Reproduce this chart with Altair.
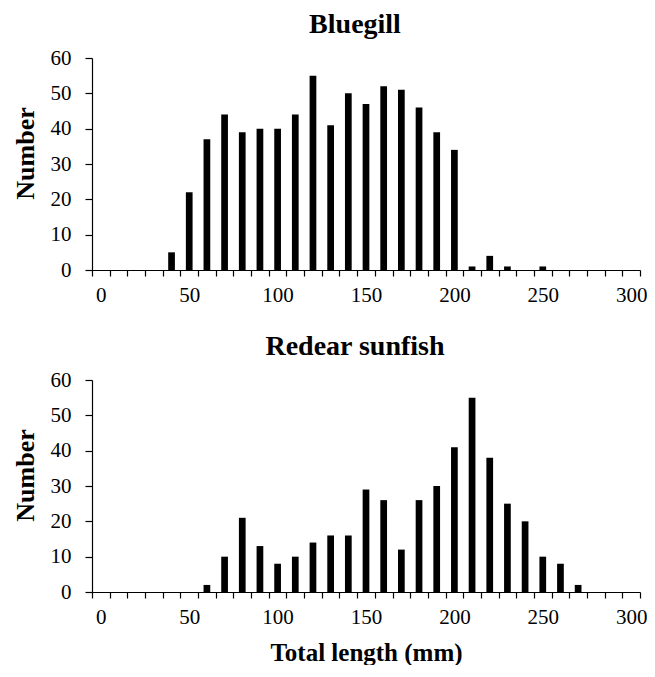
import altair as alt
import pandas as pd

lengths = [0, 10, 20, 30, 40, 50, 60, 70, 80, 90, 100, 110, 120, 130, 140, 150,
           160, 170, 180, 190, 200, 210, 220, 230, 240, 250, 260, 270, 280, 290, 300]
bluegill = [0, 0, 0, 0, 5, 22, 37, 44, 39, 40, 40, 44, 55, 41, 50, 47,
            52, 51, 46, 39, 34, 1, 4, 1, 0, 1, 0, 0, 0, 0, 0]
redear = [0, 0, 0, 0, 0, 0, 2, 10, 21, 13, 8, 10, 14, 16, 16, 29,
          26, 12, 26, 30, 41, 55, 38, 25, 20, 10, 8, 2, 0, 0, 0]
y_ticks = [0, 10, 20, 30, 40, 50, 60]

FONT = "Liberation Serif"


def panel(vals, title, xtitle=None):
    df = pd.DataFrame({"length": lengths, "n": vals})
    xaxis = dict(
        tickBand="extent",
        labelExpr="datum.value % 50 == 0 ? datum.label : ''",
        labelAngle=0,
        labelOverlap=False,
        tickSize=6,
        labelPadding=8,
        labelFontSize=21,
        labelFont=FONT,
        labelColor="black",
        domainColor="black",
        tickColor="black",
        grid=False,
    )
    if xtitle:
        xaxis.update(title=xtitle, titleFont=FONT, titleFontSize=25,
                     titleFontWeight="bold", titleColor="black", titlePadding=13)
    else:
        xaxis.update(title="")
    return (
        alt.Chart(df, title=alt.Title(title, font=FONT, fontSize=28, fontWeight="bold",
                                      color="black", anchor="middle", dx=-11, offset=8))
        .mark_bar(color="black", width=alt.RelativeBandSize(0.38))
        .encode(
            x=alt.X("length:O", scale=alt.Scale(paddingInner=0, paddingOuter=0),
                    axis=alt.Axis(**xaxis)),
            y=alt.Y("n:Q", scale=alt.Scale(domain=[0, 60], nice=False),
                    axis=alt.Axis(values=y_ticks, title="Number", titleFont=FONT,
                                  titleFontSize=26, titleFontWeight="bold",
                                  titleColor="black", titlePadding=12, titleY=95,
                                  labelFont=FONT, labelFontSize=21, labelColor="black",
                                  labelPadding=14, tickSize=7, tickColor="black",
                                  domainColor="black", grid=False)),
        )
        .properties(width=548, height=212)
    )


top = panel(bluegill, "Bluegill")
bottom = panel(redear, "Redear sunfish", "Total length (mm)")

chart = (
    alt.vconcat(top, bottom, spacing=28)
    .properties(padding={"left": 4, "top": 3, "right": 0, "bottom": 0})
    .configure_view(stroke=None)
    .configure_axis(domainWidth=1.2, tickWidth=1.2)
)

chart.save("out.html", embed_options={"renderer": "svg", "actions": False})
